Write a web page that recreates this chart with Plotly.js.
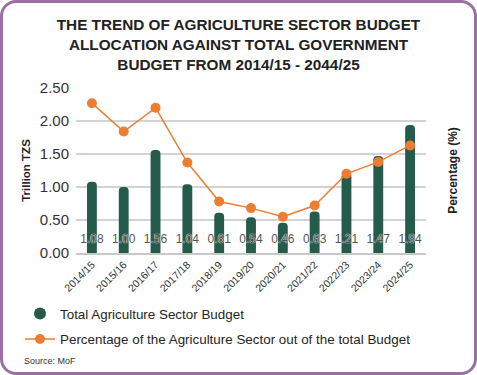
<!DOCTYPE html>
<html>
<head>
<meta charset="utf-8">
<script src="https://cdn.plot.ly/plotly-3.0.1.min.js"></script>
<style>
html,body{margin:0;padding:0;background:#fff;}
#frame{position:absolute;left:0;top:0;width:477px;height:375px;box-sizing:border-box;border:3px solid #9b6fa6;border-radius:16px;overflow:hidden;}
#chart{position:absolute;left:-3px;top:-3px;width:477px;height:375px;}
</style>
</head>
<body>
<div id="frame"><div id="chart"></div></div>
<script>
var years = ["2014/15","2015/16","2016/17","2017/18","2018/19","2019/20","2020/21","2021/22","2022/23","2023/24","2024/25"];
var budget = [1.08,1.00,1.56,1.04,0.61,0.54,0.46,0.63,1.21,1.47,1.94];
var percentage = [2.27,1.84,2.20,1.37,0.78,0.68,0.55,0.72,1.20,1.38,1.63];
var labelY = budget.map(function(){return 0.2;});

var green = "#255b4b", orange = "#ed7d31";

var traces = [
  {type:"bar", x:years, y:budget, name:"Total Agriculture Sector Budget", showlegend:false,
   marker:{color:green, cornerradius:5}, width:0.31, hoverinfo:"y"},
  {type:"scatter", mode:"markers", x:[null], y:[null], name:"Total Agriculture Sector Budget",
   legendgroup:"a", marker:{color:green, size:12, symbol:"circle"}},
  {type:"scatter", mode:"text", x:years, y:labelY, yaxis:"y2",
   text:budget.map(function(v){return v.toFixed(2);}), textposition:"middle center",
   textfont:{size:12, color:"#555555", family:"Liberation Sans, Arial",
             shadow:"0px 0px 1px #ffffff, 0px 0px 1px #ffffff"},
   showlegend:false, hoverinfo:"skip"},
  {type:"scatter", mode:"lines+markers", x:years, y:percentage, yaxis:"y2", legendgroup:"b",
   name:"Percentage of the Agriculture Sector out of the total Budget",
   line:{color:orange, width:1.5}, marker:{color:orange, size:10}}
];

var layout = {
  width:477, height:375,
  margin:{l:76, r:51, t:88, b:122, autoexpand:false},
  paper_bgcolor:"rgba(0,0,0,0)", plot_bgcolor:"rgba(0,0,0,0)",
  font:{family:"Liberation Sans, Arial, sans-serif", color:"#262626"},
  title:{text:"<b>THE TREND OF AGRICULTURE SECTOR BUDGET<br>ALLOCATION AGAINST TOTAL GOVERNMENT<br>BUDGET FROM 2014/15 - 2044/25</b>",
         font:{size:15.3, color:"#222"}, x:0.5, xanchor:"center", y:0.92, yanchor:"top"},
  xaxis:{type:"category", tickangle:-45, tickfont:{size:10.5, color:"#333"},
         showgrid:false, showline:true, linecolor:"#c8c8c8", linewidth:1.5, ticks:"", range:[-0.5,10.5]},
  yaxis:{range:[0,2.5], dtick:0.5, tickformat:".2f", tickfont:{size:15, color:"#333"},
         gridcolor:"#d3d3d3", gridwidth:1.5, zeroline:false, ticklabelstandoff:6,
         title:{text:"<b>Trillion TZS</b>", font:{size:11.5, color:"#222"}, standoff:6}},
  yaxis2:{overlaying:"y", side:"right", range:[0,2.5], showticklabels:false, showgrid:false, zeroline:false,
          title:{text:"<b>Percentage (%)</b>", font:{size:12, color:"#222"}, standoff:22}},
  showlegend:true,
  legend:{orientation:"v", x:-0.16, y:-0.275, xanchor:"left", yanchor:"top",
          font:{size:13.4, color:"#262626"}, tracegroupgap:5, traceorder:"grouped", bgcolor:"rgba(0,0,0,0)"},
  annotations:[{text:"Source: MoF", xref:"paper", yref:"paper", x:-0.155, y:-0.655, xanchor:"left", yanchor:"middle",
                showarrow:false, font:{size:9, color:"#333"}}]
};

Plotly.newPlot("chart", traces, layout, {displayModeBar:false, staticPlot:true});
</script>
</body>
</html>
